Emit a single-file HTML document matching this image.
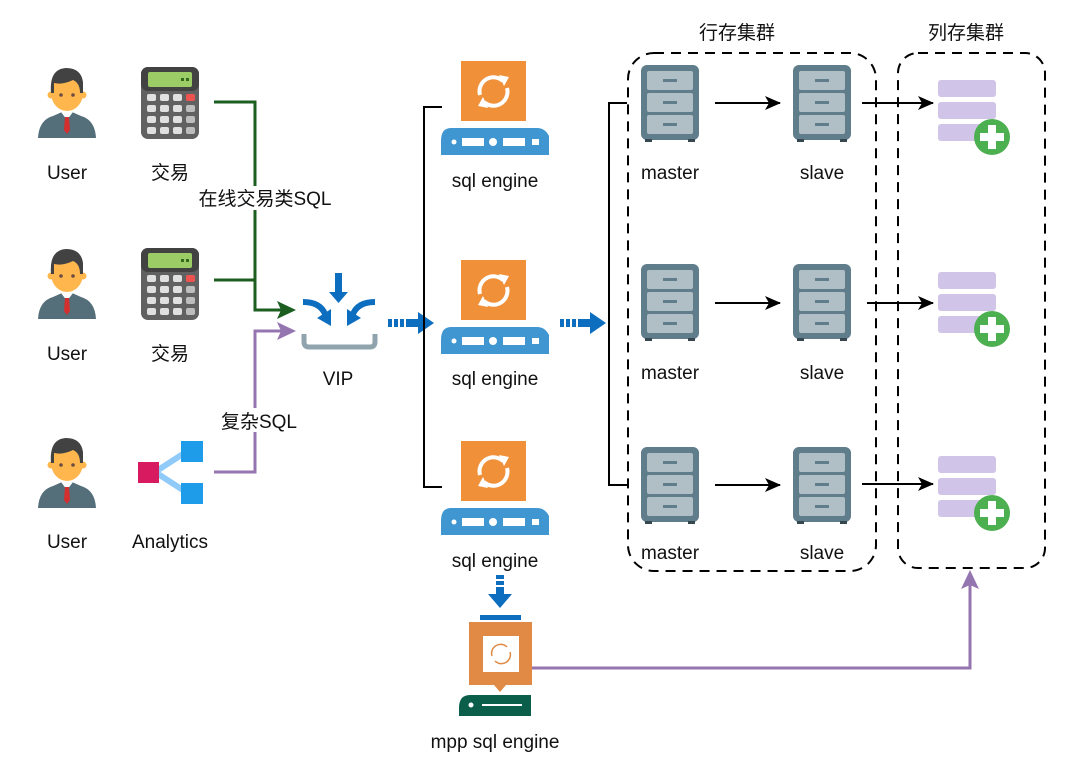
<!DOCTYPE html>
<html><head><meta charset="utf-8"><style>
html,body{margin:0;padding:0;background:#fff;}
svg{display:block;}
text{font-family:"Liberation Sans","Noto Sans CJK SC",sans-serif;font-size:19px;fill:#111;text-anchor:middle;}
</style></head><body>
<svg width="1080" height="770" viewBox="0 0 1080 770" xmlns="http://www.w3.org/2000/svg">
<defs>
<g id="user">
  <path d="M4,71 Q5,53 19,49 L28,45 L28,40 L38,40 L38,45 L47,49 Q61,53 62,71 Z" fill="#546e7a"/>
  <path d="M27,45 L33,53 L39,45 L38,40 L28,40 Z" fill="#fff"/>
  <path d="M31,50 L35,50 L36,63 L33,67 L30,63 Z" fill="#d32f2f"/>
  <ellipse cx="33" cy="26" rx="16" ry="18" fill="#ffb74d"/>
  <circle cx="17" cy="28" r="3.5" fill="#ffb74d"/><circle cx="49" cy="28" r="3.5" fill="#ffb74d"/>
  <path d="M17,26 Q15,2 32,1 Q47,1 49,15 L49,26 L46,26 Q46,16 39,13 Q29,18 20,16 L20,26 Z" fill="#424242"/>
  <circle cx="27" cy="28" r="1.8" fill="#6d4c41"/><circle cx="39" cy="28" r="1.8" fill="#6d4c41"/>
</g>
<g id="calc">
  <rect x="0" y="0" width="58" height="72" rx="7" fill="#616161"/>
  <rect x="0" y="0" width="58" height="24" rx="7" fill="#424242"/>
  <rect x="7" y="5" width="44" height="15" rx="2" fill="#9ccc65"/>
  <rect x="40" y="11" width="3" height="3" fill="#33691e"/><rect x="45" y="11" width="3" height="3" fill="#33691e"/>
  <g fill="#e0e0e0">
    <rect x="6" y="27" width="9" height="7" rx="2"/><rect x="19" y="27" width="9" height="7" rx="2"/><rect x="32" y="27" width="9" height="7" rx="2"/>
    <rect x="6" y="38" width="9" height="7" rx="2"/><rect x="19" y="38" width="9" height="7" rx="2"/><rect x="32" y="38" width="9" height="7" rx="2"/>
    <rect x="6" y="49" width="9" height="7" rx="2"/><rect x="19" y="49" width="9" height="7" rx="2"/><rect x="32" y="49" width="9" height="7" rx="2"/>
    <rect x="6" y="60" width="9" height="7" rx="2"/><rect x="19" y="60" width="9" height="7" rx="2"/><rect x="32" y="60" width="9" height="7" rx="2"/>
  </g>
  <rect x="45" y="27" width="9" height="7" rx="2" fill="#ef5350"/>
  <g fill="#bdbdbd"><rect x="45" y="38" width="9" height="7" rx="2"/><rect x="45" y="49" width="9" height="7" rx="2"/><rect x="45" y="60" width="9" height="7" rx="2"/></g>
</g>
<g id="eng">
  <rect x="20" y="0" width="65" height="60" fill="#f0913a"/>
  <g fill="none" stroke="#fff" stroke-width="4">
    <path d="M39,34 A14,14 0 0 1 62,20"/>
    <path d="M66,27 A14,14 0 0 1 43,41"/>
  </g>
  <path d="M58,14 L68,16 L63,25 Z" fill="#fff"/>
  <path d="M47,47 L37,45 L42,36 Z" fill="#fff"/>
  <path d="M0,80 Q0,67 10,67 L96,67 Q104,67 108,75 L108,94 L0,94 Z" fill="#3f96d0"/>
  <circle cx="13" cy="81" r="2.5" fill="#fff"/>
  <rect x="21" y="77" width="22" height="8" fill="#fff"/>
  <circle cx="52" cy="81" r="4" fill="#fff"/>
  <rect x="62" y="77" width="22" height="8" fill="#fff"/>
  <rect x="91" y="78" width="7" height="6" fill="#fff"/>
</g>
<g id="cab">
  <rect x="0" y="0" width="58" height="75" rx="6" fill="#5f7d8a"/>
  <rect x="6" y="6" width="46" height="19" rx="2" fill="#b0bec5"/>
  <rect x="6" y="28" width="46" height="19" rx="2" fill="#b0bec5"/>
  <rect x="6" y="50" width="46" height="19" rx="2" fill="#b0bec5"/>
  <g fill="#5f7d8a"><rect x="22" y="14" width="14" height="3"/><rect x="22" y="36" width="14" height="3"/><rect x="22" y="58" width="14" height="3"/></g>
  <rect x="4" y="74" width="7" height="3" fill="#37474f"/><rect x="47" y="74" width="7" height="3" fill="#37474f"/>
</g>
<g id="col">
  <rect x="0" y="0" width="58" height="17" rx="3" fill="#d1c4e9"/>
  <rect x="0" y="22" width="58" height="17" rx="3" fill="#d1c4e9"/>
  <rect x="0" y="44" width="58" height="17" rx="3" fill="#d1c4e9"/>
  <circle cx="54" cy="57" r="18" fill="#4caf50"/>
  <path d="M50,45 L58,45 L58,53 L66,53 L66,61 L58,61 L58,69 L50,69 L50,61 L42,61 L42,53 L50,53 Z" fill="#fff"/>
</g>
<marker id="ab" markerWidth="16" markerHeight="14" refX="15" refY="7" orient="auto" markerUnits="userSpaceOnUse"><path d="M0,0 L16,7 L0,14 L4,7 Z" fill="#000"/></marker>
</defs>

<use href="#user" x="34" y="67"/>
<use href="#user" x="34" y="248"/>
<use href="#user" x="34" y="437"/>
<text x="67" y="179">User</text>
<text x="67" y="360">User</text>
<text x="67" y="548">User</text>

<use href="#calc" x="141" y="67"/>
<use href="#calc" x="141" y="248"/>
<text x="170" y="179">交易</text>
<text x="170" y="360">交易</text>

<path d="M155,472 L186,452 M155,472 L186,492" stroke="#90caf9" stroke-width="6"/>
<rect x="138" y="462" width="21" height="21" fill="#d81b60"/>
<rect x="181" y="441" width="22" height="21" fill="#1e9be9"/>
<rect x="181" y="483" width="22" height="21" fill="#1e9be9"/>
<text x="170" y="548">Analytics</text>

<g fill="none" stroke="#1b5e20" stroke-width="3">
<path d="M214,102 L255,102 L255,310 L282,310"/>
<path d="M214,280 L255,280"/>
</g>
<path d="M296,310 L277,301 L281,310 L277,319 Z" fill="#1b5e20"/>
<rect x="188" y="186" width="152" height="24" fill="#fff"/>
<text x="265" y="205">在线交易类SQL</text>

<path d="M214,472 L255,472 L255,331 L282,331" fill="none" stroke="#9575b0" stroke-width="3"/>
<path d="M296,331 L277,322 L281,331 L277,340 Z" fill="#9575b0"/>
<rect x="215" y="408" width="88" height="24" fill="#fff"/>
<text x="259" y="428">复杂SQL</text>

<path d="M304,334 L304,342 Q304,347 309,347 L370,347 Q375,347 375,342 L375,334" fill="none" stroke="#90a4ae" stroke-width="5"/>
<path d="M335,273 L342,273 L342,292 L348,292 L338.5,303 L329,292 L335,292 Z" fill="#0d6ebf"/>
<path d="M303,302 Q320,302 325,314" fill="none" stroke="#0d6ebf" stroke-width="6"/>
<path d="M317,318 L331,326 L331,309 Z" fill="#0d6ebf"/>
<path d="M375,302 Q358,302 353,314" fill="none" stroke="#0d6ebf" stroke-width="6"/>
<path d="M361,318 L347,326 L347,309 Z" fill="#0d6ebf"/>
<text x="338" y="385">VIP</text>

<g fill="#0d6ebf">
<rect x="388" y="319" width="4" height="8"/><rect x="394" y="319" width="4" height="8"/><rect x="400" y="319" width="4" height="8"/><rect x="406" y="319" width="14" height="8"/>
<path d="M418,312 L434,323 L418,334 Z"/>
<rect x="560" y="319" width="4" height="8"/><rect x="566" y="319" width="4" height="8"/><rect x="572" y="319" width="4" height="8"/><rect x="578" y="319" width="14" height="8"/>
<path d="M590,312 L606,323 L590,334 Z"/>
</g>

<path d="M442,107 L424,107 L424,487 L442,487" fill="none" stroke="#000" stroke-width="2"/>
<path d="M627,103 L609,103 L609,485 L627,485" fill="none" stroke="#000" stroke-width="2"/>

<use href="#eng" x="441" y="61"/>
<use href="#eng" x="441" y="260"/>
<use href="#eng" x="441" y="441"/>
<text x="495" y="187">sql engine</text>
<text x="495" y="385">sql engine</text>
<text x="495" y="567">sql engine</text>

<rect x="628" y="53" width="248" height="518" rx="26" fill="none" stroke="#000" stroke-width="2" stroke-dasharray="10,7"/>
<rect x="898" y="53" width="147" height="515" rx="20" fill="none" stroke="#000" stroke-width="2" stroke-dasharray="10,7"/>
<text x="737" y="39">行存集群</text>
<text x="966" y="39">列存集群</text>

<use href="#cab" x="641" y="65"/>
<use href="#cab" x="641" y="264"/>
<use href="#cab" x="641" y="447"/>
<use href="#cab" x="793" y="65"/>
<use href="#cab" x="793" y="264"/>
<use href="#cab" x="793" y="447"/>
<text x="670" y="179">master</text>
<text x="670" y="379">master</text>
<text x="670" y="559">master</text>
<text x="822" y="179">slave</text>
<text x="822" y="379">slave</text>
<text x="822" y="559">slave</text>

<g stroke="#000" stroke-width="2" marker-end="url(#ab)">
<line x1="715" y1="103" x2="780" y2="103"/>
<line x1="715" y1="303" x2="780" y2="303"/>
<line x1="715" y1="485" x2="780" y2="485"/>
<line x1="862" y1="103" x2="933" y2="103"/>
<line x1="867" y1="303" x2="933" y2="303"/>
<line x1="862" y1="484" x2="933" y2="484"/>
</g>

<use href="#col" x="938" y="80"/>
<use href="#col" x="938" y="272"/>
<use href="#col" x="938" y="456"/>

<g fill="#0d6ebf">
<rect x="496" y="575" width="8" height="4"/><rect x="496" y="581" width="8" height="4"/><rect x="496" y="587" width="8" height="10"/>
<path d="M488,594 L512,594 L500,608 Z"/>
<rect x="480" y="615" width="41" height="5"/>
</g>
<path d="M469,622 L532,622 L532,685 L506,685 L500,692 L494,685 L469,685 Z" fill="#e08a45"/>
<rect x="483" y="636" width="36" height="36" fill="#fff"/>
<g fill="none" stroke="#e08a45" stroke-width="1.5">
<path d="M492,656 A9,9 0 0 1 507,647"/><path d="M510,652 A9,9 0 0 1 495,661"/>
</g>
<path d="M459,708 Q459,695 470,695 L531,695 L531,716 L459,716 Z" fill="#0b5e4a"/>
<circle cx="471" cy="705" r="2.5" fill="#fff"/>
<rect x="482" y="704" width="40" height="2" fill="#fff"/>
<text x="495" y="748">mpp sql engine</text>

<path d="M532,668 L970,668 L970,585" fill="none" stroke="#9575b0" stroke-width="3"/>
<path d="M970,570 L961,589 L970,585 L979,589 Z" fill="#9575b0"/>
</svg>
</body></html>
